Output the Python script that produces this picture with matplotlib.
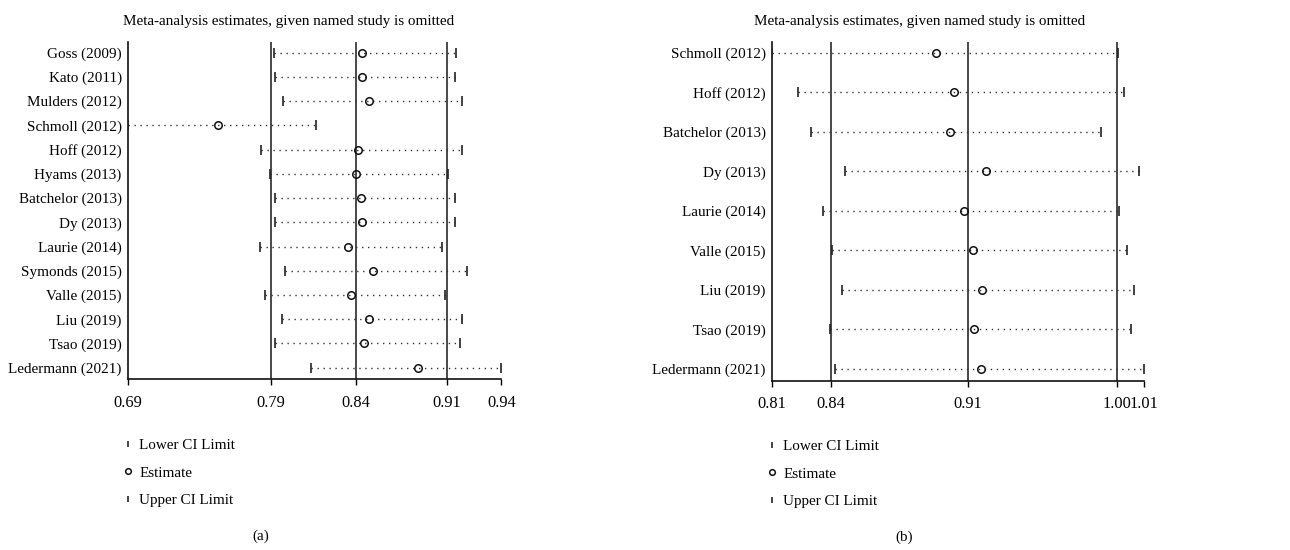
import matplotlib
matplotlib.use("Agg")
import matplotlib.pyplot as plt

plt.rcParams['font.family'] = ['Liberation Serif', 'DejaVu Serif']
plt.rcParams['font.size'] = 10.9

# ---------------- data: panel (a) ----------------
studies_a = ["Goss (2009)", "Kato (2011)", "Mulders (2012)", "Schmoll (2012)",
             "Hoff (2012)", "Hyams (2013)", "Batchelor (2013)", "Dy (2013)",
             "Laurie (2014)", "Symonds (2015)", "Valle (2015)", "Liu (2019)",
             "Tsao (2019)", "Ledermann (2021)"]
est_a = [0.8479, 0.8479, 0.8530, 0.7506, 0.8452, 0.8441, 0.8476, 0.8483,
         0.8389, 0.8557, 0.8409, 0.8528, 0.8497, 0.8856]
lower_a = [0.7886, 0.7893, 0.7945, 0.6900, 0.7801, 0.7859, 0.7891, 0.7895,
           0.7794, 0.7963, 0.7828, 0.7943, 0.7895, 0.8134]
upper_a = [0.9116, 0.9107, 0.9159, 0.8172, 0.9159, 0.9060, 0.9112, 0.9112,
           0.9024, 0.9193, 0.9042, 0.9159, 0.9143, 0.9422]
overall_a = [0.7866, 0.8440, 0.9055]
ticks_a = [0.6900, 0.7866, 0.8440, 0.9055, 0.9422]
ticklabels_a = ["0.69", "0.79", "0.84", "0.91", "0.94"]

# ---------------- data: panel (b) ----------------
studies_b = ["Schmoll (2012)", "Hoff (2012)", "Batchelor (2013)", "Dy (2013)",
             "Laurie (2014)", "Valle (2015)", "Liu (2019)", "Tsao (2019)",
             "Ledermann (2021)"]
est_b = [0.8962, 0.9061, 0.9039, 0.9237, 0.9118, 0.9167, 0.9215, 0.9171, 0.9213]
lower_b = [0.8060, 0.8205, 0.8277, 0.8462, 0.8339, 0.8391, 0.8447, 0.8381, 0.8405]
upper_b = [0.9965, 1.0001, 0.9873, 1.0082, 0.9972, 1.0014, 1.0056, 1.0036, 1.0108]
overall_b = [0.8383, 0.9140, 0.9962]
ticks_b = [0.8060, 0.8383, 0.9140, 0.9962, 1.0108]
ticklabels_b = ["0.81", "0.84", "0.91", "1.00", "1.01"]

title = "Meta-analysis estimates, given named study is omitted"
legend_labels = ["Lower CI Limit", "Estimate", "Upper CI Limit"]

W, H = 1290, 550
fig = plt.figure(figsize=(W / 100, H / 100), dpi=100)


def fx(px):
    return px / W


def fy(py):
    return 1 - py / H


def panel(rect, studies, est, lo, hi, overall, ticks, ticklabels, ylim,
          title_xy, leg_xy, letter, letter_xy):
    ax = fig.add_axes(rect)
    n = len(studies)
    y = list(range(n, 0, -1))
    for v in overall:
        ax.axvline(v, color='#2a2a2a', lw=1.2, zorder=1)
    for yi, l, h in zip(y, lo, hi):
        ax.plot([l, h], [yi, yi], ls=(0, (1, 3.3)), lw=1.0, color='#333333',
                zorder=2)
    h1, = ax.plot(lo, y, ls='none', marker='|', ms=6.5, mew=1.2,
                  color='#222222', label=legend_labels[0], zorder=3)
    h2, = ax.plot(est, y, ls='none', marker='o', ms=5.4, mew=1.1,
                  mfc='none', mec='#111111', label=legend_labels[1], zorder=4)
    h3, = ax.plot(hi, y, ls='none', marker='|', ms=6.5, mew=1.2,
                  color='#222222', label=legend_labels[2], zorder=3)
    ax.set_xlim(ticks[0], ticks[-1])
    ax.set_ylim(*ylim)
    for s in ('top', 'right'):
        ax.spines[s].set_visible(False)
    for s in ('left', 'bottom'):
        ax.spines[s].set_linewidth(1.2)
        ax.spines[s].set_color('#111111')
    ax.set_yticks(y)
    ax.set_yticklabels(studies)
    ax.tick_params(axis='y', length=0, pad=4.5)
    ax.set_xticks(ticks)
    ax.set_xticklabels(ticklabels, fontsize=11.8)
    ax.tick_params(axis='x', length=4.5, width=1.0, pad=6.5)
    fig.text(fx(title_xy[0]), fy(title_xy[1]), title, ha='center',
             va='baseline')
    fig.legend(handles=[h1, h2, h3], loc='upper left',
               bbox_to_anchor=(fx(leg_xy[0]), fy(leg_xy[1])),
               frameon=False, borderpad=0, borderaxespad=0, numpoints=1,
               handlelength=0.8, handletextpad=0.35, labelspacing=0.92,
               markerscale=0.75)
    fig.text(fx(letter_xy[0]), fy(letter_xy[1]), letter, ha='center',
             va='center')
    return ax


panel([fx(128), fy(379.3), fx(501.3) - fx(128), fy(42) - fy(379.3)],
      studies_a, est_a, lower_a, upper_a, overall_a, ticks_a, ticklabels_a,
      (0.52, 14.44), (288.7, 25), (121.7, 438.5), "(a)", (261, 536))

panel([fx(772), fy(380.7), fx(1143.7) - fx(772), fy(42) - fy(380.7)],
      studies_b, est_b, lower_b, upper_b, overall_b, ticks_b, ticklabels_b,
      (0.70, 9.27), (920, 25), (765.7, 439.5), "(b)", (904.3, 537))

fig.savefig("out.png", dpi=100)
